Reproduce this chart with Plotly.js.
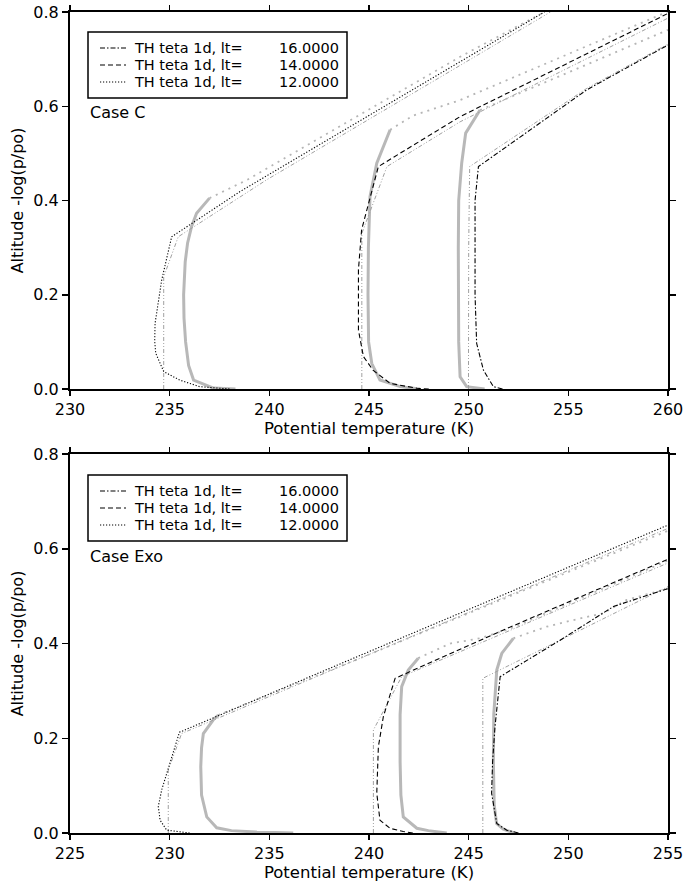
<!DOCTYPE html>
<html>
<head>
<meta charset="utf-8">
<script src="https://cdn.plot.ly/plotly-3.0.1.min.js"></script>
<style>html,body{margin:0;padding:0;background:#fff;}#chart{width:684px;height:886px;}</style>
</head>
<body>
<div id="chart"></div>
<script>
// ---------------- Case C (top panel) ----------------
// black: TH teta 1d profiles
var c_lt16_x = [251.7, 251.24, 250.74, 250.4, 250.32, 250.32, 250.49, 255.93, 260.0];
var c_lt16_y = [0.0, 0.005, 0.04, 0.097, 0.2, 0.4, 0.472, 0.635, 0.73];
var c_lt14_x = [248.0, 247.4, 246.06, 245.2, 244.72, 244.47, 244.47, 244.63, 245.47, 249.57, 260.0];
var c_lt14_y = [0.0, 0.0015, 0.012, 0.04, 0.069, 0.125, 0.253, 0.338, 0.472, 0.578, 0.797];
var c_lt12_x = [238.0, 236.5, 235.5, 234.7, 234.3, 234.25, 234.27, 234.6, 235.1, 238.53, 253.8];
var c_lt12_y = [0.0, 0.005, 0.019, 0.037, 0.076, 0.1, 0.14, 0.231, 0.323, 0.419, 0.8];
// grey thin reference profiles
var c_ref16_x = [249.99, 250.0, 250.05, 252.58, 255.93, 260.0];
var c_ref16_y = [0.0, 0.3, 0.472, 0.543, 0.638, 0.732];
var c_ref14_x = [244.64, 244.64, 245.9, 249.57, 260.0];
var c_ref14_y = [0.0, 0.33, 0.472, 0.567, 0.787];
var c_ref12_x = [234.7, 234.7, 235.43, 239.87, 254.1];
var c_ref12_y = [0.0, 0.238, 0.323, 0.444, 0.8];
// grey thick model profiles (dense levels) and sparse upper levels
var c_mod16_x = [250.8, 249.9, 249.57, 249.5, 249.48, 249.5, 249.65, 249.85, 250.57];
var c_mod16_y = [0.0, 0.005, 0.026, 0.1, 0.3, 0.4, 0.479, 0.543, 0.592];
var c_up16_x = [250.57, 260.0];
var c_up16_y = [0.592, 0.762];
var c_mod14_x = [247.56, 246.56, 245.55, 245.14, 244.98, 244.95, 244.97, 245.05, 245.39, 246.06];
var c_mod14_y = [0.0, 0.005, 0.019, 0.054, 0.1, 0.2, 0.3, 0.408, 0.479, 0.55];
var c_up14_x = [246.06, 247.2, 249.57, 260.0];
var c_up14_y = [0.55, 0.58, 0.613, 0.801];
var c_mod12_x = [238.3, 237.2, 236.2, 235.95, 235.8, 235.72, 235.7, 235.78, 235.9, 236.1, 236.35, 237.0];
var c_mod12_y = [0.0, 0.002, 0.019, 0.05, 0.1, 0.15, 0.2, 0.27, 0.31, 0.345, 0.373, 0.405];
var c_up12_x = [237.0, 238.9, 249.57, 253.8];
var c_up12_y = [0.405, 0.444, 0.705, 0.8];

// ---------------- Case Exo (bottom panel) ----------------
var e_lt16_x = [247.5, 246.91, 246.41, 246.15, 246.2, 246.32, 246.58, 249.59, 252.26, 255.0];
var e_lt16_y = [0.0, 0.006, 0.02, 0.084, 0.15, 0.224, 0.33, 0.407, 0.478, 0.516];
var e_lt14_x = [242.2, 241.72, 241.06, 240.55, 240.39, 240.47, 240.72, 241.31, 246.66, 255.0];
var e_lt14_y = [0.0, 0.003, 0.0099, 0.027, 0.084, 0.182, 0.2455, 0.3265, 0.427, 0.578];
var e_lt12_x = [231.0, 229.85, 229.52, 229.43, 229.6, 230.1, 230.49, 238.05, 255.0];
var e_lt12_y = [0.0, 0.006, 0.027, 0.056, 0.091, 0.161, 0.2126, 0.348, 0.65];
var e_ref16_x = [245.71, 245.71, 248.58, 255.0];
var e_ref16_y = [0.0, 0.3265, 0.386, 0.52];
var e_ref14_x = [240.22, 240.22, 241.64, 255.0];
var e_ref14_y = [0.0, 0.2174, 0.33, 0.57];
var e_ref12_x = [229.93, 229.93, 230.6, 255.0];
var e_ref12_y = [0.0, 0.133, 0.21, 0.643];
var e_mod16_x = [247.3, 246.74, 246.4, 246.28, 246.24, 246.26, 246.41, 246.66, 247.24];
var e_mod16_y = [0.0, 0.008, 0.02, 0.06, 0.15, 0.25, 0.344, 0.379, 0.411];
var e_up16_x = [247.24, 248.91, 250.59, 251.76, 252.93, 255.0];
var e_up16_y = [0.411, 0.4355, 0.453, 0.464, 0.492, 0.516];
var e_mod14_x = [243.9, 242.98, 242.4, 241.72, 241.6, 241.56, 241.56, 241.64, 241.97, 242.47];
var e_mod14_y = [0.0, 0.005, 0.01, 0.034, 0.08, 0.15, 0.25, 0.309, 0.344, 0.369];
var e_up14_x = [242.47, 244.07, 245.57, 247.0, 255.0];
var e_up14_y = [0.369, 0.40, 0.411, 0.43, 0.575];
var e_mod12_x = [236.2, 234.37, 233.1, 232.36, 231.86, 231.6, 231.56, 231.6, 231.69, 232.19, 232.44];
var e_mod12_y = [0.0, 0.002, 0.005, 0.011, 0.034, 0.08, 0.14, 0.18, 0.21, 0.239, 0.249];
var e_up12_x = [232.44, 239.55, 255.0];
var e_up12_y = [0.249, 0.369, 0.638];

var legendLabel = 'TH teta 1d, lt=';
var legendValues = ['16.0000', '14.0000', '12.0000'];
var caseNames = ['Case C', 'Case Exo'];

var FONT = 'DejaVu Sans, Liberation Sans, sans-serif';
var DASHES = ['5px,2px,1.5px,2px', '5px,3px', '1.2px,1.8px'];
var GREY_THIN = '#a0a0a0';
var GREY_THICK = '#b8b8b8';

// pixel helpers for decoration placement (plot area: x 70..668, y 12..833)
var L = 70, R = 668, T = 12, B = 833;
function px(x) { return (x - L) / (R - L); }
function py(y) { return (B - y) / (B - T); }

function line(x, y, xa, ya, color, width, dash) {
  return {x: x, y: y, xaxis: xa, yaxis: ya, mode: 'lines', type: 'scatter',
          line: {color: color, width: width, dash: dash, shape: 'linear'},
          showlegend: false, hoverinfo: 'skip'};
}

function panel(xa, ya, d) {
  var tr = [];
  [[d.mod16x, d.mod16y, d.up16x, d.up16y], [d.mod14x, d.mod14y, d.up14x, d.up14y], [d.mod12x, d.mod12y, d.up12x, d.up12y]].forEach(function (m) {
    tr.push(line(m[0], m[1], xa, ya, GREY_THICK, 3, 'solid'));
    tr.push(line(m[2], m[3], xa, ya, '#b5b5b5', 1.8, '2px,5px'));
  });
  [[d.ref16x, d.ref16y], [d.ref14x, d.ref14y], [d.ref12x, d.ref12y]].forEach(function (r) {
    tr.push(line(r[0], r[1], xa, ya, GREY_THIN, 1, '4px,2px,1px,2px,1px,2px'));
  });
  [[d.lt16x, d.lt16y], [d.lt14x, d.lt14y], [d.lt12x, d.lt12y]].forEach(function (b, i) {
    tr.push(line(b[0], b[1], xa, ya, '#000', 1.1, DASHES[i]));
  });
  return tr;
}

var traces = [].concat(
  panel('x', 'y', {
    lt16x: c_lt16_x, lt16y: c_lt16_y, lt14x: c_lt14_x, lt14y: c_lt14_y, lt12x: c_lt12_x, lt12y: c_lt12_y,
    ref16x: c_ref16_x, ref16y: c_ref16_y, ref14x: c_ref14_x, ref14y: c_ref14_y, ref12x: c_ref12_x, ref12y: c_ref12_y,
    mod16x: c_mod16_x, mod16y: c_mod16_y, up16x: c_up16_x, up16y: c_up16_y,
    mod14x: c_mod14_x, mod14y: c_mod14_y, up14x: c_up14_x, up14y: c_up14_y,
    mod12x: c_mod12_x, mod12y: c_mod12_y, up12x: c_up12_x, up12y: c_up12_y}),
  panel('x2', 'y2', {
    lt16x: e_lt16_x, lt16y: e_lt16_y, lt14x: e_lt14_x, lt14y: e_lt14_y, lt12x: e_lt12_x, lt12y: e_lt12_y,
    ref16x: e_ref16_x, ref16y: e_ref16_y, ref14x: e_ref14_x, ref14y: e_ref14_y, ref12x: e_ref12_x, ref12y: e_ref12_y,
    mod16x: e_mod16_x, mod16y: e_mod16_y, up16x: e_up16_x, up16y: e_up16_y,
    mod14x: e_mod14_x, mod14y: e_mod14_y, up14x: e_up14_x, up14y: e_up14_y,
    mod12x: e_mod12_x, mod12y: e_mod12_y, up12x: e_up12_x, up12y: e_up12_y})
);

function xax(range, anchor) {
  return {range: range, domain: [0, 1], anchor: anchor, dtick: 5, tick0: 0,
    showline: true, linecolor: '#000', linewidth: 2, mirror: 'ticks',
    ticks: 'outside', ticklen: 5, tickwidth: 1.5, tickcolor: '#000',
    showgrid: false, zeroline: false,
    tickfont: {family: FONT, size: 16, color: '#000'},
    title: {text: 'Potential temperature (K)', font: {family: FONT, size: 16.5, color: '#000'}, standoff: 4}};
}
function yax(dom, anchor) {
  return {range: [0, 0.8], domain: dom, anchor: anchor, dtick: 0.2, tick0: 0, tickformat: '.1f',
    showline: true, linecolor: '#000', linewidth: 2, mirror: 'ticks',
    ticks: 'outside', ticklen: 6, tickwidth: 1.5, tickcolor: '#000',
    showgrid: false, zeroline: false,
    tickfont: {family: FONT, size: 16, color: '#000'},
    title: {text: 'Altitude -log(p/po)', font: {family: FONT, size: 16, color: '#000'}, standoff: 6}};
}

// manual legends (box, line samples, labels) + case labels
var shapes = [], annotations = [];
var LEG_FONT = {family: FONT, size: 14.5, color: '#000'};
[32, 475].forEach(function (top, p) {
  shapes.push({type: 'rect', xref: 'paper', yref: 'paper', x0: px(88), x1: px(347), y0: py(top), y1: py(top + 66),
               line: {color: '#000', width: 1.5}, fillcolor: '#fff', layer: 'above'});
  [16, 33, 50].forEach(function (dy, i) {
    var yy = top + dy;
    shapes.push({type: 'line', xref: 'paper', yref: 'paper', x0: px(100), x1: px(126), y0: py(yy), y1: py(yy),
                 line: {color: '#000', width: 1.1, dash: DASHES[i]}, layer: 'above'});
    annotations.push({xref: 'paper', yref: 'paper', x: px(133), y: py(yy), xanchor: 'left', yanchor: 'middle',
                      text: legendLabel, showarrow: false, font: LEG_FONT, borderpad: 0});
    annotations.push({xref: 'paper', yref: 'paper', x: px(340), y: py(yy), xanchor: 'right', yanchor: 'middle',
                      text: legendValues[i], showarrow: false, font: LEG_FONT, borderpad: 0});
  });
  annotations.push({xref: 'paper', yref: 'paper', x: px(88), y: py(top + 81), xanchor: 'left', yanchor: 'middle',
                    text: caseNames[p], showarrow: false, font: {family: FONT, size: 16, color: '#000'}});
});

var layout = {
  width: 684, height: 886,
  margin: {l: L, r: 684 - R, t: T, b: 886 - B},
  paper_bgcolor: '#fff', plot_bgcolor: '#fff',
  font: {family: FONT, size: 16, color: '#000'},
  xaxis: xax([230, 260], 'y'),
  yaxis: yax([py(389), 1], 'x'),
  xaxis2: xax([225, 255], 'y2'),
  yaxis2: yax([0, py(454)], 'x2'),
  shapes: shapes,
  annotations: annotations,
  showlegend: false
};

Plotly.newPlot('chart', traces, layout, {staticPlot: true, displayModeBar: false});
</script>
</body>
</html>
